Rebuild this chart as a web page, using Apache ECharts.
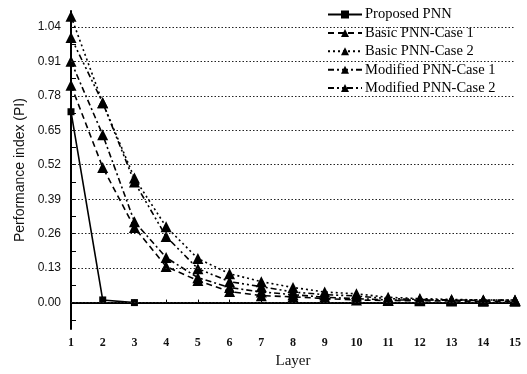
<!DOCTYPE html>
<html><head><meta charset="utf-8">
<script src="https://cdn.jsdelivr.net/npm/echarts@6/dist/echarts.min.js"></script>
<style>html,body{margin:0;padding:0;background:#fff}#c{width:527px;height:374px}</style>
</head><body><div id="c"></div>
<script>
const layers = [1,2,3,4,5,6,7,8,9,10,11,12,13,14,15];
const proposedLayers = [1,2,3];
const proposedPNN = [0.72, 0.01, 0.00];
const basicCase1 = [0.82, 0.51, 0.283, 0.136, 0.083, 0.042, 0.026, 0.022, 0.015, 0.010, 0.008, 0.007, 0.006, 0.005, 0.005];
const basicCase2 = [1.08, 0.754, 0.470, 0.286, 0.166, 0.109, 0.079, 0.057, 0.040, 0.033, 0.020, 0.015, 0.012, 0.010, 0.010];
const modCase1   = [0.91, 0.633, 0.305, 0.170, 0.094, 0.057, 0.040, 0.030, 0.020, 0.015, 0.010, 0.010, 0.009, 0.008, 0.008];
const modCase2   = [1.00, 0.754, 0.455, 0.249, 0.128, 0.079, 0.060, 0.040, 0.030, 0.025, 0.015, 0.012, 0.010, 0.010, 0.009];
const yLabels = [0.00, 0.13, 0.26, 0.39, 0.52, 0.65, 0.78, 0.91, 1.04];
const yTicks = [-0.065, 0, 0.065, 0.13, 0.195, 0.26, 0.325, 0.39, 0.455, 0.52, 0.585, 0.65, 0.715, 0.78, 0.845, 0.91, 0.975, 1.04, 1.105];

const names = ['Proposed PNN','Basic PNN-Case 1','Basic PNN-Case 2','Modified PNN-Case 1','Modified PNN-Case 2'];
const serif = 'Liberation Serif';
const sans = 'Liberation Sans';
const zip = (xs, ys) => xs.map((x, i) => [x, ys[i]]);

function triSeries(name, data, dash) {
  return {
    name, type: 'line', data: zip(layers, data),
    symbol: 'triangle', symbolSize: 11,
    itemStyle: {color: '#000'},
    lineStyle: {color: '#000', width: 1.6, type: dash},
    clip: false, z: 3
  };
}

const chart = echarts.init(document.getElementById('c'), null, {renderer: 'canvas'});
chart.setOption({
  animation: false,
  backgroundColor: '#fff',
  grid: {left: 71, right: 12, top: 11, bottom: 44.5, containLabel: false},
  xAxis: {
    type: 'value', min: 1, max: 15, interval: 1,
    name: 'Layer', nameLocation: 'middle', nameGap: 22,
    nameTextStyle: {fontFamily: serif, fontSize: 15, color: '#111'},
    axisLine: {lineStyle: {color: '#000', width: 2}},
    axisTick: {inside: true, length: 3, lineStyle: {color: '#000'}},
    axisLabel: {fontFamily: serif, fontSize: 12, fontWeight: 'bold', color: '#111', margin: 8},
    splitLine: {show: false}
  },
  yAxis: {
    type: 'value', min: -0.1, max: 1.1,
    name: 'Performance index (PI)', nameLocation: 'middle', nameGap: 42,
    nameTextStyle: {fontFamily: sans, fontSize: 14, color: '#111'},
    axisLine: {show: true, lineStyle: {color: '#000', width: 2}},
    axisTick: {show: true, inside: true, length: 5, customValues: yTicks, lineStyle: {color: '#000'}},
    axisLabel: {fontFamily: sans, fontSize: 12, color: '#111', margin: 10, customValues: yLabels,
      formatter: v => v.toFixed(2)},
    splitLine: {show: false}
  },
  legend: {
    orient: 'vertical', left: 322, top: 2, itemGap: 3.4, itemWidth: 34, itemHeight: 10,
    data: names,
    textStyle: {fontFamily: serif, fontSize: 14.5, color: '#000', padding: [0, 0, 0, -2]}
  },
  series: [
    {
      name: 'grid', type: 'line', data: [], silent: true,
      markLine: {
        silent: true, symbol: 'none', label: {show: false}, animation: false,
        lineStyle: {color: '#222', type: [1.5, 2], width: 1},
        data: yLabels.map(v => ({yAxis: v}))
      }
    },
    {
      name: names[0], type: 'line', data: zip(proposedLayers, proposedPNN),
      symbol: 'rect', symbolSize: 7, itemStyle: {color: '#000'},
      lineStyle: {color: '#000', width: 1.6, type: 'solid'}, clip: false, z: 3
    },
    triSeries(names[1], basicCase1, [6, 4]),
    triSeries(names[2], basicCase2, [2, 3]),
    triSeries(names[3], modCase1, [6, 3, 2, 3]),
    triSeries(names[4], modCase2, [6, 3, 2, 3, 2, 3])
  ]
});
</script></body></html>
